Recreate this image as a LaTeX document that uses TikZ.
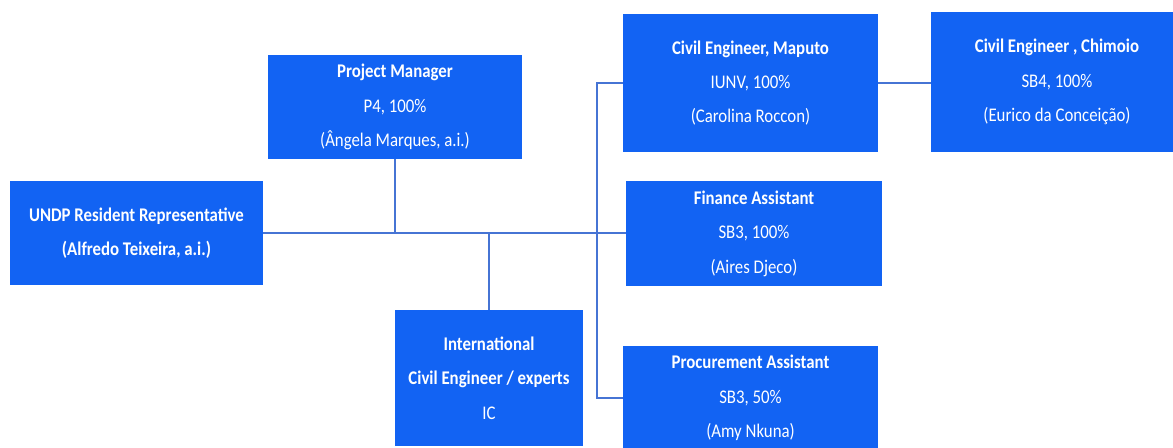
\documentclass[tikz,border=0pt]{standalone}
\usepackage{fontspec}
\setmainfont{Carlito}[FakeStretch=0.87]
\usepackage{tikz}
\usetikzlibrary{positioning,calc}
\definecolor{boxblue}{RGB}{18,99,243}
\definecolor{lineblue}{RGB}{70,116,212}
\newcommand{\post}[3]{\textbf{#1}\\#2\\#3}

\begin{document}
\begin{tikzpicture}[x=0.02cm,y=-0.02cm,
        post/.style={fill=boxblue,text=white,align=center,inner sep=0pt,
            font=\fontsize{11}{19.6}\selectfont},
        link/.style={draw=lineblue,line width=1pt}]
    \useasboundingbox (0,0) rectangle (1173,447);
    \clip (0,0) rectangle (1173,447);

    \node[post,minimum width=5.06cm,minimum height=2.08cm] (rr) at (136.5,233)
        {\textbf{UNDP Resident Representative}\\\textbf{(Alfredo Teixeira, a.i.)}};
    \node[post,minimum width=5.08cm,minimum height=2.08cm] (pm) at (395,107)
        {\post{Project Manager}{P4, 100\%}{(Ângela Marques, a.i.)}};
    \node[post,minimum width=5.10cm,minimum height=2.76cm] (cem) at (750.5,83)
        {\post{Civil Engineer, Maputo}{IUNV, 100\%}{(Carolina Roccon)}};
    \node[post,minimum width=5.04cm,minimum height=2.80cm] (cec) at (1057,82)
        {\post{Civil Engineer , Chimoio}{SB4, 100\%}{(Eurico da Conceição)}};
    \node[post,minimum width=5.12cm,minimum height=2.10cm] (fa) at (754,233.5)
        {\post{Finance Assistant}{SB3, 100\%}{(Aires Djeco)}};
    \node[post,minimum width=5.10cm,minimum height=2.08cm] (pa) at (750.5,398)
        {\post{Procurement Assistant}{SB3, 50\%}{(Amy Nkuna)}};
    \node[post,minimum width=3.76cm,minimum height=2.72cm] (ic) at (489,378)
        {\textbf{International}\\\textbf{Civil Engineer / experts}\\IC};

    \coordinate (spine) at (597,233);

    \draw[link] (rr.east) -- (rr.east -| fa.west);
    \draw[link] (pm.south) -- (pm.south |- rr.east);
    \draw[link] (ic.north) -- (ic.north |- rr.east);
    \draw[link] (cem.west) -- (cem.west -| spine) -- (spine |- pa.west) -- (pa.west);
    \draw[link] (cem.east) -- (cem.east -| cec.west);
\end{tikzpicture}
\end{document}
